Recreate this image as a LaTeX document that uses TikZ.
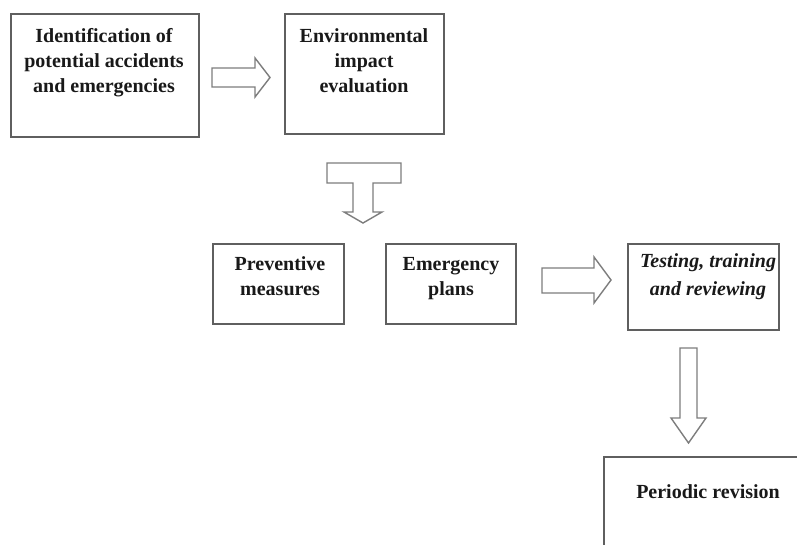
\documentclass[tikz,border=0pt]{standalone}
\usepackage{fontspec}
\setmainfont{Liberation Serif}
\definecolor{boxgray}{RGB}{95,95,95}
\definecolor{arrowgray}{RGB}{125,125,125}
\definecolor{inkc}{RGB}{25,25,25}
\tikzset{
  box/.style={draw=boxgray, line width=1.8pt, inner sep=0pt, anchor=north west, fill=white},
  txt/.style={font=\bfseries\fontsize{20}{25}\selectfont, text=inkc, align=center, anchor=base, inner sep=0pt},
  itxt/.style={txt, font=\bfseries\itshape\fontsize{20}{28}\selectfont},
  blockarrow/.style={draw=arrowgray, line width=1.4pt, fill=white, line join=miter}
}
\begin{document}
\begin{tikzpicture}[x=1pt, y=-1pt]
\useasboundingbox (0,0) rectangle (797,544);
\clip (0,0) rectangle (797,544);
\fill[white] (0,0) rectangle (797,544);
% boxes
\node[box, minimum width=188pt, minimum height=123pt] (b1) at (10,13) {};
\node[box, minimum width=159pt, minimum height=120pt] (b2) at (284,13) {};
\node[box, minimum width=131pt, minimum height=80pt] (b3) at (212,243) {};
\node[box, minimum width=130pt, minimum height=80pt] (b4) at (385,243) {};
\node[box, minimum width=151pt, minimum height=86pt] (b5) at (627,243) {};
\node[box, minimum width=230pt, minimum height=130pt] (b6) at (603,456) {};
% texts (anchored at the baseline of the last line)
\node[txt] (t1) at (104,92) {Identification of\\potential accidents\\and emergencies};
\node[txt] (t2) at (364,92) {Environmental\\impact\\evaluation};
\node[txt] (t3) at (280,295) {Preventive\\measures};
\node[txt] (t4) at (451,295) {Emergency\\plans};
\node[itxt] (t5) at (708,295) {Testing, training\\and reviewing};
\node[txt] (t6) at (708,498) {Periodic revision};
% block arrows
\coordinate (a1) at (212,68);
\draw[blockarrow] (a1) -- (255,68) -- (255,58) -- (270,77.5) -- (255,97) -- (255,87) -- (212,87) -- cycle;
\coordinate (a2) at (327,163);
\draw[blockarrow] (a2) -- (401,163) -- (401,183) -- (373,183) -- (373,212) -- (382,212) -- (363,223) -- (344,212) -- (353,212) -- (353,183) -- (327,183) -- cycle;
\coordinate (a3) at (542,268);
\draw[blockarrow] (a3) -- (594,268) -- (594,257) -- (611,280) -- (594,303) -- (594,293) -- (542,293) -- cycle;
\coordinate (a4) at (680,348);
\draw[blockarrow] (a4) -- (697,348) -- (697,418) -- (706,418) -- (688.5,443) -- (671,418) -- (680,418) -- cycle;
\end{tikzpicture}
\end{document}
